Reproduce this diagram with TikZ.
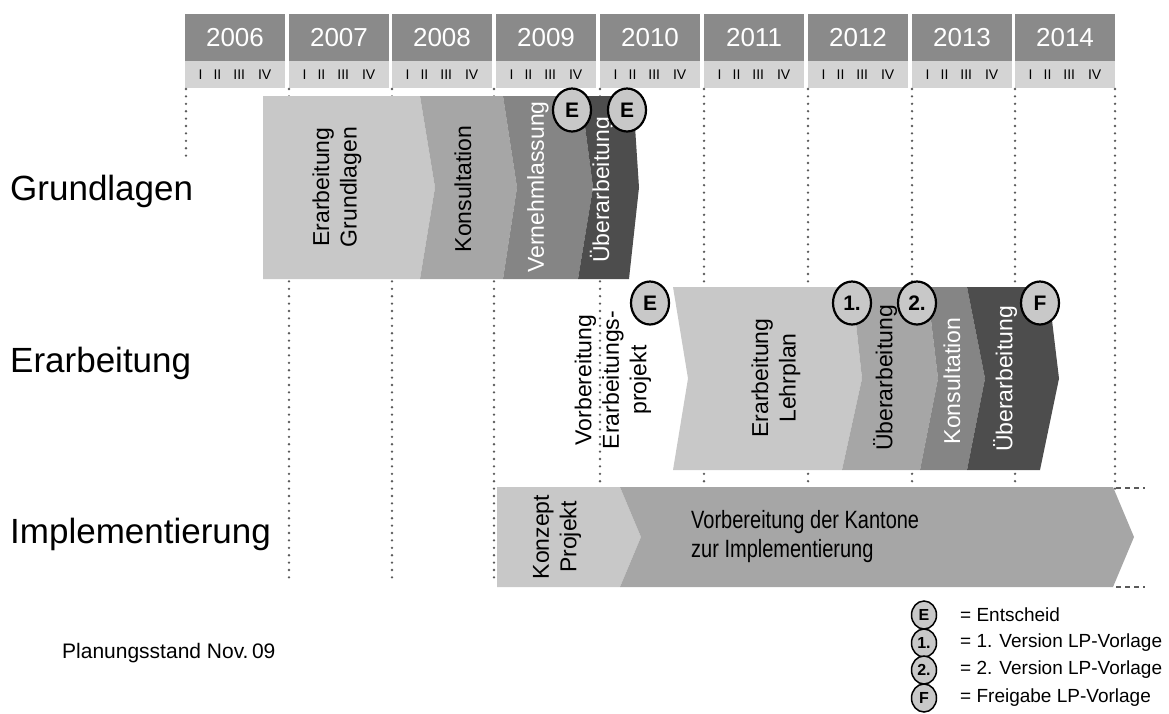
\documentclass[tikz,border=0pt]{standalone}
\usepackage{fontspec}
\setmainfont{Liberation Sans}
\newfontfamily\narrowfont[FakeStretch=0.8]{Liberation Sans}
\usetikzlibrary{shapes}
\definecolor{yrdark}{HTML}{8A8A8A}
\definecolor{yrlight}{HTML}{D4D4D4}
\definecolor{phlight}{HTML}{C8C8C8}
\definecolor{phmid}{HTML}{A6A6A6}
\definecolor{phdark}{HTML}{858585}
\definecolor{phdeep}{HTML}{4D4D4D}
\definecolor{dotgray}{HTML}{5A5A5A}
\tikzstyle{yr}=[fill=yrdark,text=white,minimum width=100pt,minimum height=47pt,inner sep=0pt,font=\fontsize{26}{30}\selectfont]
\tikzstyle{qr}=[fill=yrlight,minimum width=100pt,minimum height=27pt,inner sep=0pt,font=\fontsize{14}{16}\selectfont]
\tikzstyle{grid}=[dotgray,line width=2.6pt,line cap=round,dash pattern=on 0pt off 7.4pt]
\tikzstyle{edge}=[dotgray,line width=1.5pt,dash pattern=on 5pt off 4pt]
\tikzstyle{ph}=[rotate=90,align=center,inner sep=0pt,font=\fontsize{23}{27.5}\selectfont]
\tikzstyle{phw}=[ph,text=white]
\tikzstyle{ms}=[ellipse,draw=black,line width=2.2pt,fill=phlight,minimum width=38pt,minimum height=43pt,inner sep=0pt,font=\bfseries\fontsize{21}{24}\selectfont]
\tikzstyle{lms}=[ms,line width=1.5pt,minimum width=25pt,minimum height=28pt,font=\bfseries\fontsize{16}{18}\selectfont]
\tikzstyle{row}=[anchor=base west,inner sep=0pt,font=\fontsize{35}{40}\selectfont]
\tikzstyle{lg}=[anchor=west,inner sep=0pt,font=\fontsize{19}{22}\selectfont]
\newcommand{\qrt}{I\hspace{11pt}II\hspace{12pt}III\hspace{13pt}IV}

\begin{document}
\begin{tikzpicture}[x=1pt,y=-1pt]
\useasboundingbox (0,0) rectangle (1169,713);
% years
\node[yr] (y06) at (235,37.5) {2006}; \node[qr] (q06) at (235,74.5) {\qrt};
\node[yr] (y07) at (339,37.5) {2007}; \node[qr] (q07) at (339,74.5) {\qrt};
\node[yr] (y08) at (442,37.5) {2008}; \node[qr] (q08) at (442,74.5) {\qrt};
\node[yr] (y09) at (546,37.5) {2009}; \node[qr] (q09) at (546,74.5) {\qrt};
\node[yr] (y10) at (650,37.5) {2010}; \node[qr] (q10) at (650,74.5) {\qrt};
\node[yr] (y11) at (754,37.5) {2011}; \node[qr] (q11) at (754,74.5) {\qrt};
\node[yr] (y12) at (858,37.5) {2012}; \node[qr] (q12) at (858,74.5) {\qrt};
\node[yr] (y13) at (962,37.5) {2013}; \node[qr] (q13) at (962,74.5) {\qrt};
\node[yr] (y14) at (1065,37.5) {2014}; \node[qr] (q14) at (1065,74.5) {\qrt};
% grid
\draw[grid] (186,89) -- (186,156);
\draw[grid] (289,89) -- (289,580);
\draw[grid] (392,89) -- (392,580);
\draw[grid] (494,89) -- (494,580);
\draw[grid] (600,89) -- (600,580);
\draw[grid] (704,89) -- (704,580);
\draw[grid] (808,89) -- (808,580);
\draw[grid] (912,89) -- (912,580);
\draw[grid] (1015,89) -- (1015,580);
\draw[grid] (1115,89) -- (1115,580);
\draw[edge] (1116,488) -- (1145,488);
\draw[edge] (1116,587) -- (1145,587);
% Grundlagen
\fill[phlight] (263,96) -- (420,96) -- (435,187.5) -- (420,279) -- (263,279) -- cycle;
\fill[phmid] (420,96) -- (503,96) -- (517,187.5) -- (503,279) -- (420,279) -- (435,187.5) -- cycle;
\fill[phdark] (503,96) -- (581,96) -- (593,187.5) -- (578,279) -- (503,279) -- (517,187.5) -- cycle;
\fill[phdeep] (581,96) -- (633,96) -- (639,187.5) -- (629,279) -- (578,279) -- (593,187.5) -- cycle;
% Erarbeitung
\fill[phlight] (673,287) -- (852,287) -- (862,378.5) -- (842,470) -- (673,470) -- (688,378.5) -- cycle;
\fill[phmid] (852,287) -- (927,287) -- (938,378.5) -- (920,470) -- (842,470) -- (862,378.5) -- cycle;
\fill[phdark] (927,287) -- (967,287) -- (985,378.5) -- (967,470) -- (920,470) -- (938,378.5) -- cycle;
\fill[phdeep] (967,287) -- (1048,287) -- (1059,378.5) -- (1040,470) -- (967,470) -- (985,378.5) -- cycle;
% Implementierung
\fill[phlight] (497,487) -- (620,487) -- (641,537) -- (620,587) -- (497,587) -- cycle;
\fill[phmid] (620,487) -- (1113,487) -- (1134,537) -- (1113,587) -- (620,587) -- (641,537) -- cycle;
% phase texts
\node[ph] (erg) at (337,187) {Erarbeitung\\Grundlagen};
\node[ph] (kon1) at (463,189) {Konsultation};
\node[phw] (ver) at (538,187) {Vernehmlassung};
\node[phw] (ueb1) at (602,190) {Überarbeitung};
\node[ph] (vep) at (613,380) {Vorbereitung\\Erarbeitungs-\\projekt};
\node[ph] (erl) at (776,378) {Erarbeitung\\Lehrplan};
\node[ph] (ueb2) at (885,378) {Überarbeitung};
\node[phw] (kon2) at (952,381) {Konsultation};
\node[phw] (ueb3) at (1005,379) {Überarbeitung};
\node[ph] (kpj) at (557,537) {Konzept\\Projekt};
\node[anchor=west,align=left,inner sep=0pt,font=\narrowfont\fontsize{25}{29}\selectfont] (vdk) at (691,537) {Vorbereitung der Kantone\\zur Implementierung};
% milestones
\node[ms] (e1) at (572,110) {E};
\node[ms] (e2) at (627,110) {E};
\node[ms] (e3) at (650,303) {E};
\node[ms] (v1) at (852,303) {1.};
\node[ms] (v2) at (917,303) {2.};
\node[ms] (fg) at (1040,303) {F};
% rows
\node[row] (gl) at (10,200) {Grundlagen};
\node[row] (ea) at (10,372) {Erarbeitung};
\node[row] (im) at (10,543) {Implementierung};
% legend
\node[lms] (le) at (924,615) {E}; \node[lg] at (960,615) {= Entscheid};
\node[lms] (l1) at (924,643) {1.}; \node[lg] at (960,643) {= 1. Version LP-Vorlage};
\node[lms] (l2) at (924,670) {2.}; \node[lg] at (960,670) {= 2. Version LP-Vorlage};
\node[lms] (lf) at (924,698) {F}; \node[lg] at (960,698) {= Freigabe LP-Vorlage};
\node[anchor=base west,inner sep=0pt,font=\fontsize{21}{24}\selectfont] (pst) at (62,658) {Planungsstand Nov.\,09};
\end{tikzpicture}
\end{document}
